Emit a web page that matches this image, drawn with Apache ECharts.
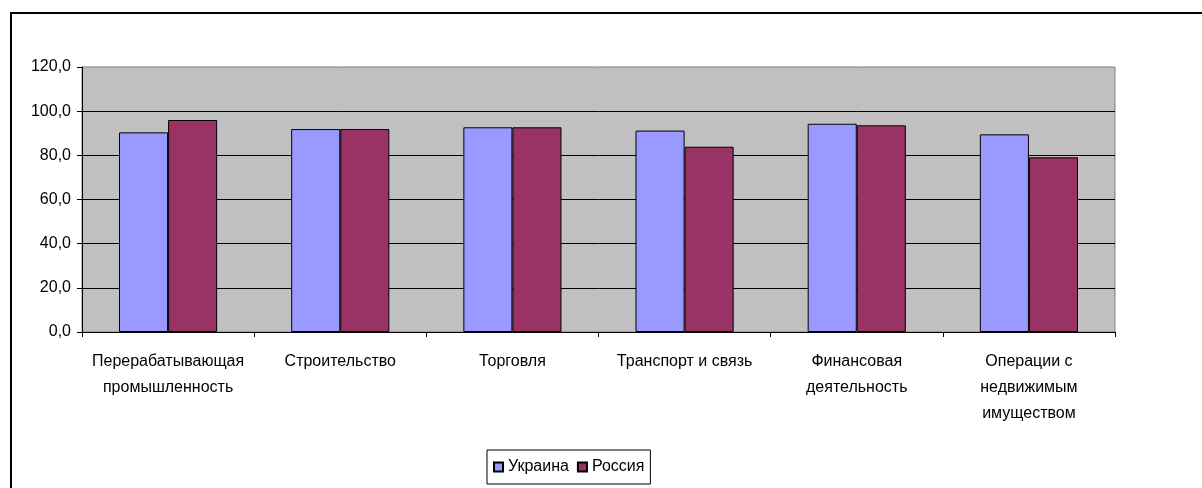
<!DOCTYPE html>
<html>
<head>
<meta charset="utf-8">
<script src="https://cdn.jsdelivr.net/npm/echarts@6/dist/echarts.min.js"></script>
<style>
    html, body { margin: 0; padding: 0; background: #fff; }
    #chart { width: 1202px; height: 488px; }
</style>
</head>
<body>
<div id="chart"></div>
<script>
// отрасли (подписи по оси X)
var categories = [
    'Перерабатывающая\nпромышленность',
    'Строительство',
    'Торговля',
    'Транспорт и связь',
    'Финансовая\nдеятельность',
    'Операции с\nнедвижимым\nимуществом'
];
var seriesNames = ['Украина', 'Россия'];
var ukraine = [90.4, 91.9, 92.7, 91.2, 94.3, 89.5];
var russia = [96.0, 91.9, 92.7, 83.9, 93.6, 79.1];

var myChart = echarts.init(document.getElementById('chart'));
var font = 'Liberation Sans, Arial, sans-serif';

var option = {
    animation: false,
    backgroundColor: '#fff',
    textStyle: { fontFamily: font },
    graphic: [{
        type: 'rect',
        shape: { x: 11, y: 13, width: 1400, height: 700 },
        style: { fill: 'none', stroke: '#000', lineWidth: 2 },
        silent: true
    }],
    grid: {
        left: 82,
        right: 87,
        top: 67,
        bottom: 156,
        show: true,
        backgroundColor: '#C0C0C0',
        borderColor: '#808080',
        borderWidth: 1
    },
    legend: {
        data: seriesNames,
        left: 487,
        top: 450,
        padding: [9, 6, 9, 6],
        itemWidth: 9,
        itemHeight: 9,
        itemGap: 8,
        borderColor: '#000',
        borderWidth: 1,
        icon: 'rect',
        textStyle: { fontFamily: font, fontSize: 16, color: '#000' }
    },
    xAxis: {
        type: 'category',
        data: categories,
        axisLine: { lineStyle: { color: '#000', width: 1 } },
        axisTick: { show: true, length: 5, lineStyle: { color: '#000' } },
        axisLabel: {
            color: '#000',
            fontSize: 16,
            lineHeight: 26,
            margin: 17,
            interval: 0,
            fontFamily: font
        }
    },
    yAxis: {
        type: 'value',
        min: 0,
        max: 120,
        interval: 20,
        axisLine: { show: true, lineStyle: { color: '#000', width: 1 } },
        axisTick: { show: true, length: 5, lineStyle: { color: '#000' } },
        axisLabel: {
            color: '#000',
            fontSize: 16,
            margin: 11,
            fontFamily: font,
            formatter: function (v) {
                return v.toFixed(1).replace('.', ',');
            }
        },
        splitLine: {
            show: true,
            showMaxLine: false,
            lineStyle: { color: '#000', width: 1 }
        }
    },
    series: [{
        name: seriesNames[0],
        type: 'bar',
        data: ukraine,
        barGap: '0%',
        barCategoryGap: '43%',
        itemStyle: { color: '#9999FF', borderColor: '#000', borderWidth: 1 }
    }, {
        name: seriesNames[1],
        type: 'bar',
        data: russia,
        barGap: '0%',
        barCategoryGap: '43%',
        itemStyle: { color: '#993366', borderColor: '#000', borderWidth: 1 }
    }]
};
myChart.setOption(option);
window.addEventListener('resize', function () {
    myChart.resize();
});
</script>
</body>
</html>
